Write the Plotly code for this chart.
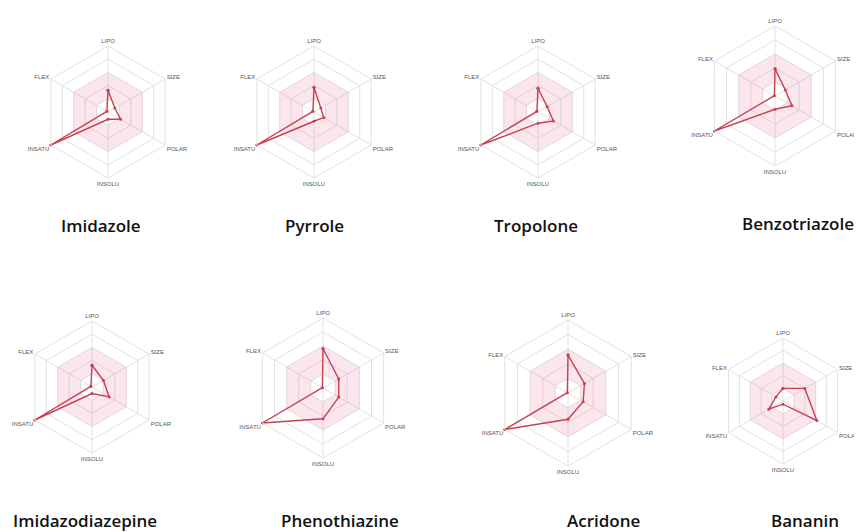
import plotly.graph_objects as go

# ---------------- data ----------------
axes = ["LIPO", "SIZE", "POLAR", "INSOLU", "INSATU", "FLEX"]
compounds = ["Imidazole", "Pyrrole", "Tropolone", "Benzotriazole",
             "Imidazodiazepine", "Phenothiazine", "Acridone", "Bananin"]

imidazole = [0.33, 0.12, 0.22, 0.11, 1.00, 0.02]
pyrrole = [0.37, 0.12, 0.17, 0.14, 1.00, 0.02]
tropolone = [0.36, 0.16, 0.27, 0.17, 1.00, 0.02]
benzotriazole = [0.39, 0.17, 0.28, 0.19, 1.00, 0.01]
imidazodiazepine = [0.33, 0.20, 0.30, 0.10, 1.00, 0.02]
phenothiazine = [0.56, 0.26, 0.26, 0.44, 1.00, 0.01]
acridone = [0.52, 0.26, 0.24, 0.36, 1.00, 0.01]
bananin = [0.20, 0.40, 0.62, 0.05, 0.26, 0.13]

optimal_upper = [0.6, 0.6, 0.6, 0.6, 0.6, 0.6]
optimal_lower = [0.2, 0.2, 0.2, 0.2, 0.2, 0.2]
grid_levels = [0.2, 0.4, 0.6, 0.8, 1.0]

series = [imidazole, pyrrole, tropolone, benzotriazole,
          imidazodiazepine, phenothiazine, acridone, bananin]

# ---------------- layout (pixel geometry, page coordinates) ----------------
PAGE_W, PAGE_H = 862, 532
OFF = 8                       # default page margin around the plot div
W, H = PAGE_W - OFF, PAGE_H - OFF
centers = [(108, 112), (314, 112), (538, 112), (775, 96),
           (92, 387), (323, 388), (568, 393), (783, 401)]
radii = [66, 66, 66, 70, 66, 70, 73, 63]
title_pos = [(101, 225), (314, 225), (536, 225), (798, 223),
             (85, 520), (340, 520), (603, 520), (805, 520)]

line_col = "#c8414f"
fill_col = "rgba(235, 80, 130, 0.14)"
grid_col = "#e2e2e2"

fig = go.Figure()
layout_updates = {}
annotations = []

for i, (name, vals) in enumerate(zip(compounds, series)):
    pid = "polar" if i == 0 else f"polar{i + 1}"
    # pink optimal band (ring between lower and upper limits)
    band_r = optimal_upper + [optimal_upper[0]] + [optimal_lower[0]] + optimal_lower[::-1]
    band_t = axes + [axes[0]] + [axes[0]] + axes[::-1]
    fig.add_trace(go.Scatterpolar(
        r=band_r, theta=band_t, mode="lines", fill="toself",
        fillcolor=fill_col, line=dict(width=0, color="rgba(0,0,0,0)"),
        hoverinfo="skip", showlegend=False, subplot=pid))
    fig.add_trace(go.Scatterpolar(
        r=vals + [vals[0]], theta=axes + [axes[0]], mode="lines+markers",
        line=dict(color=line_col, width=1.4),
        marker=dict(size=3, color=line_col),
        showlegend=False, name=name, subplot=pid))

    cx, cy = centers[i][0] - OFF, centers[i][1] - OFF
    R = radii[i]
    layout_updates[pid] = dict(
        domain=dict(x=[(cx - R) / W, (cx + R) / W],
                    y=[(H - cy - R) / H, (H - cy + R) / H]),
        gridshape="linear",
        bgcolor="rgba(0,0,0,0)",
        radialaxis=dict(range=[0, 1], tickvals=grid_levels, showticklabels=False,
                        ticks="", showline=False, gridcolor=grid_col, gridwidth=1),
        angularaxis=dict(rotation=90, direction="clockwise",
                         categoryorder="array", categoryarray=axes,
                         showline=True, linecolor=grid_col, linewidth=1,
                         gridcolor=grid_col, gridwidth=1, ticks="",
                         tickfont=dict(size=6, color="#555555",
                                       family="Liberation Sans, Arial, sans-serif")),
    )
    tx, ty = title_pos[i][0] - OFF, title_pos[i][1] - OFF
    annotations.append(dict(
        text=name, x=tx / W, y=(H - ty) / H, xref="paper", yref="paper",
        showarrow=False, xanchor="center", yanchor="middle",
        font=dict(size=17, color="#111111", family="Open Sans, Noto Sans, sans-serif",
                  weight=600)))

fig.update_layout(**layout_updates)
fig.update_layout(width=W, height=H, margin=dict(l=0, r=0, t=0, b=0),
                  paper_bgcolor="white", plot_bgcolor="white",
                  annotations=annotations, showlegend=False)

fig.write_html("out.html")
